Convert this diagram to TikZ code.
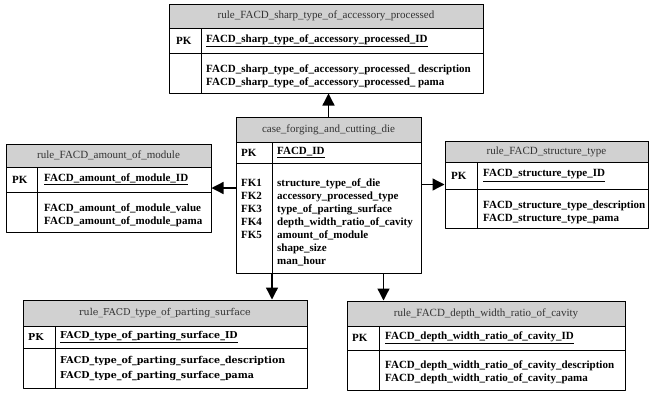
\documentclass[tikz,border=0pt]{standalone}
\usepackage{fontspec}
\setmainfont{Liberation Serif}
\newfontfamily\dvserif{DejaVu Serif}
\usetikzlibrary{fit,arrows.meta}
\definecolor{hdrgray}{RGB}{209,209,209}
\newcommand\fsz{\fontsize{11}{13}\selectfont}
\newcommand\fsd{\dvserif\fontsize{9.5}{15.5}\selectfont}
\tikzset{
 tbl/.style={draw, line width=1pt, inner sep=0pt},
 hdr/.style={fill=hdrgray, draw, line width=1pt},
 ttl/.style={inner sep=0pt, font=\fsz, text=black!80},
 pk/.style={inner sep=0pt, anchor=west, font=\fsz\bfseries},
 attr/.style={inner sep=0pt, anchor=north west, align=left, font=\fsz\bfseries},
 conn/.style={-{Triangle[length=12pt,width=12pt]}, line width=1.3pt}
}
% name, x1, y1, x2, y2, header bottom, pk bottom, divider, title
\newcommand\ertable[9]{%
 \node[tbl, fit={(#2,#3) (#4,#5)}] (#1) {};
 \draw[hdr] (#2,#3) rectangle (#4,#6);
 \draw[line width=1pt] (#2,#7) -- (#4,#7) (#8,#6) -- (#8,#5);
 \coordinate (#1-div) at (#8,#5);
 \node[ttl] (#1-title) at ({(#2+#4)/2},{(#3+#6)/2}) {#9};
}
\begin{document}
\begin{tikzpicture}[x=1pt, y=-1pt, line join=round]
 \useasboundingbox (0,0) rectangle (650,394);
 \ertable{sharp}{169}{4}{483}{93}{28}{53}{201}{rule\_FACD\_sharp\_type\_of\_accessory\_processed}
 \node[pk] (sharp-pk) at (176,40.5) {PK};
 \node[pk] (sharp-id) at (206,40.5) {\underline{FACD\_sharp\_type\_of\_accessory\_processed\_ID}};
 \node[attr] (sharp-attr) at (206,65) {FACD\_sharp\_type\_of\_accessory\_processed\_ description\\FACD\_sharp\_type\_of\_accessory\_processed\_ pama};

 \ertable{main}{236}{117}{421}{273}{142}{163}{272}{case\_forging\_and\_cutting\_die}
 \node[pk] (main-pk) at (241,152.5) {PK};
 \node[pk] (main-id) at (277,152.5) {\underline{FACD\_ID}};
 \node[attr] (main-fk) at (241,179) {FK1\\FK2\\FK3\\FK4\\FK5};
 \node[attr] (main-attr) at (277,179) {structure\_type\_of\_die\\accessory\_processed\_type\\type\_of\_parting\_surface\\depth\_width\_ratio\_of\_cavity\\amount\_of\_module\\shape\_size\\man\_hour};

 \ertable{amount}{6}{144}{211}{232}{167}{192}{37}{rule\_FACD\_amount\_of\_module}
 \node[pk] (amount-pk) at (12,179.5) {PK};
 \node[pk] (amount-id) at (44,179.5) {\underline{FACD\_amount\_of\_module\_ID}};
 \node[attr] (amount-attr) at (44,204) {FACD\_amount\_of\_module\_value\\FACD\_amount\_of\_module\_pama};

 \ertable{struct}{445}{141}{648}{228}{162}{189}{477}{rule\_FACD\_structure\_type}
 \node[pk] (struct-pk) at (451,175.5) {PK};
 \node[pk] (struct-id) at (483,175.5) {\underline{FACD\_structure\_type\_ID}};
 \node[attr] (struct-attr) at (483,201) {FACD\_structure\_type\_description\\FACD\_structure\_type\_pama};

 \begin{scope}[ttl/.append style={font=\fsd}, pk/.append style={font=\fsd\bfseries}, attr/.append style={font=\fsd\bfseries}]
 \ertable{parting}{23}{300}{307}{388}{326}{348}{55}{rule\_FACD\_type\_of\_parting\_surface}
 \node[pk] (parting-pk) at (28,337) {PK};
 \node[pk] (parting-id) at (60,337) {\underline{FACD\_type\_of\_parting\_surface\_ID}};
 \node[attr] (parting-attr) at (60,356) {FACD\_type\_of\_parting\_surface\_description\\FACD\_type\_of\_parting\_surface\_pama};
 \end{scope}

 \ertable{depth}{347}{301}{625}{390}{326}{350}{379}{rule\_FACD\_depth\_width\_ratio\_of\_cavity}
 \node[pk] (depth-pk) at (352,338) {PK};
 \node[pk] (depth-id) at (385,338) {\underline{FACD\_depth\_width\_ratio\_of\_cavity\_ID}};
 \node[attr] (depth-attr) at (385,361) {FACD\_depth\_width\_ratio\_of\_cavity\_description\\FACD\_depth\_width\_ratio\_of\_cavity\_pama};

 \coordinate (depth-in) at ([xshift=37pt]depth.north west);
 \draw[conn] (main.north) -- (main.north |- sharp.south);
 \draw[conn] (main.west |- amount.east) -- (amount.east);
 \draw[conn] (main.east |- struct.west) -- (struct.west);
 \draw[conn] (main-div) -- (main-div |- parting.north);
 \draw[conn] (main.south -| depth-in) -- (depth-in);
\end{tikzpicture}
\end{document}
